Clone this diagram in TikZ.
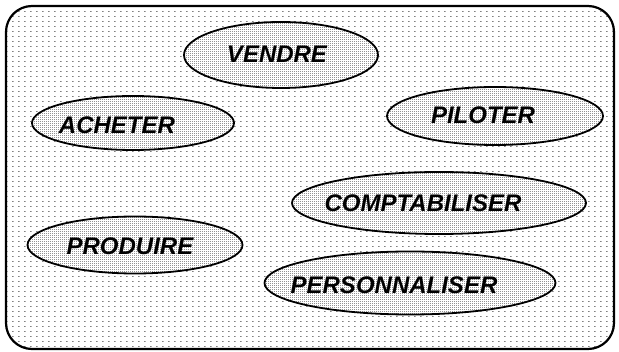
\documentclass[tikz,border=0pt]{standalone}
\usepackage{fontspec}
\setmainfont{Liberation Sans}
\usetikzlibrary{patterns,shapes.geometric}
\pgfdeclarepatternformonly{bgdots}{\pgfpointorigin}{\pgfqpoint{6pt}{5pt}}{\pgfqpoint{6pt}{5pt}}{%
  \pgfpathrectangle{\pgfpointorigin}{\pgfqpoint{2pt}{1pt}}\pgfusepath{fill}}
\pgfdeclarepatternformonly{finedots}{\pgfpointorigin}{\pgfqpoint{2pt}{2pt}}{\pgfqpoint{2pt}{2pt}}{%
  \pgfpathrectangle{\pgfpointorigin}{\pgfqpoint{1pt}{1pt}}\pgfusepath{fill}}
\begin{document}
\begin{tikzpicture}[x=1pt,y=-1pt,
  proc/.style={draw=black, line width=1.8pt, ellipse, inner sep=0pt,
    preaction={fill=white}, pattern=finedots, pattern color=black},
  lbl/.style={font=\fontsize{24}{28}\selectfont\bfseries\itshape, inner sep=0pt}]
\useasboundingbox (0,0) rectangle (619,352);
\fill[white] (0,0) rectangle (619,352);
\path[pattern=bgdots, pattern color=black!50, rounded corners=26pt] (6,6) rectangle (614,349);
\draw[line width=2.2pt, rounded corners=26pt] (6,6) rectangle (614,349);
\node[proc, minimum width=194pt, minimum height=66pt] (e1) at (281,55) {};
\node[proc, minimum width=202pt, minimum height=54pt] (e2) at (133,123) {};
\node[proc, minimum width=216pt, minimum height=58pt] (e3) at (495,116) {};
\node[proc, minimum width=294pt, minimum height=62pt] (e4) at (439,203) {};
\node[proc, minimum width=215pt, minimum height=57pt] (e5) at (135,245) {};
\node[proc, minimum width=291pt, minimum height=63pt] (e6) at (410,283) {};
\node[lbl] (t1) at (277,54) {VENDRE};
\node[lbl] (t2) at (117,125) {ACHETER};
\node[lbl] (t3) at (483,115) {PILOTER};
\node[lbl] (t4) at (423,203) {COMPTABILISER};
\node[lbl] (t5) at (130,246) {PRODUIRE};
\node[lbl] (t6) at (394,285) {PERSONNALISER};
\end{tikzpicture}
\end{document}
